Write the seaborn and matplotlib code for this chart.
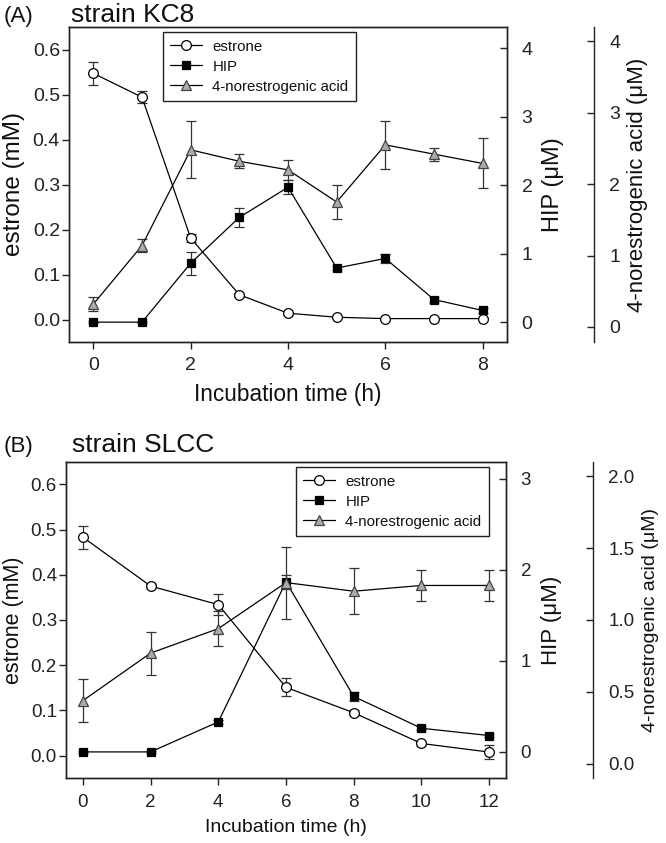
import numpy as np
import pandas as pd
import seaborn as sns
import matplotlib
matplotlib.use("Agg")
import matplotlib.pyplot as plt
from matplotlib.ticker import FormatStrFormatter

# ---------------- data ----------------
A_time = [0, 1, 2, 3, 4, 5, 6, 7, 8]
A_estrone = [0.547, 0.494, 0.181, 0.055, 0.014, 0.005, 0.002, 0.002, 0.002]
A_estrone_err = [0.025, 0.013, 0.008, 0.004, 0.003, 0.002, 0.001, 0.001, 0.001]
A_hip = [0.0, 0.0, 0.86, 1.53, 1.97, 0.79, 0.93, 0.33, 0.17]
A_hip_err = [0.01, 0.01, 0.17, 0.14, 0.10, 0.03, 0.07, 0.03, 0.03]
A_nor = [0.32, 1.14, 2.48, 2.32, 2.20, 1.75, 2.55, 2.42, 2.29]
A_nor_err = [0.10, 0.09, 0.40, 0.10, 0.14, 0.24, 0.34, 0.09, 0.35]

B_time = [0, 2, 4, 6, 8, 10, 12]
B_estrone = [0.483, 0.375, 0.334, 0.151, 0.095, 0.027, 0.008]
B_estrone_err = [0.025, 0.005, 0.024, 0.020, 0.005, 0.005, 0.015]
B_hip = [0.0, 0.0, 0.33, 1.87, 0.61, 0.26, 0.18]
B_hip_err = [0.01, 0.01, 0.02, 0.08, 0.05, 0.02, 0.02]
B_nor = [0.44, 0.77, 0.94, 1.26, 1.20, 1.24, 1.24]
B_nor_err = [0.15, 0.15, 0.12, 0.25, 0.16, 0.11, 0.11]

series_names = ["estrone", "HIP", "4-norestrogenic acid"]

# ---------------- style ----------------
sns.set_theme(style="ticks")
plt.rcParams["font.family"] = ["Liberation Sans", "DejaVu Sans"]
plt.rcParams.update({
    "axes.linewidth": 1.0,
    "axes.edgecolor": "#222222",
    "xtick.major.width": 1.0,
    "ytick.major.width": 1.0,
    "xtick.major.size": 5,
    "ytick.major.size": 5,
    "xtick.color": "#222222",
    "ytick.color": "#222222",
    "text.color": "#111111",
    "axes.labelcolor": "#111111",
})

fig = plt.figure(figsize=(6.66, 8.43), dpi=100)

W, H = 666.0, 843.0


def rect(l, t, r, b):
    return [l / W, 1 - b / H, (r - l) / W, (b - t) / H]


def panel(r, third_pos, t, est, este, hip, hipe, nor, nore,
          xlim, xticks, hip_lim, hip_ticks, nor_lim, nor_ticks, nor_fmt,
          leg_anchor, fs, ylab_x):
    ax = fig.add_axes(r)
    ax2 = ax.twinx()
    ax3 = ax.twinx()
    ax3.spines["right"].set_position(("axes", third_pos))
    for s in ["top", "bottom", "left"]:
        ax3.spines[s].set_visible(False)
    ax3.patch.set_visible(False)
    for a in (ax, ax2):
        for s in a.spines.values():
            s.set_visible(True)

    lw = 0.9
    ekw = dict(fmt="none", ecolor="#333333", elinewidth=0.9, capsize=3.6, capthick=0.9, zorder=1.5)

    ax.errorbar(t, est, yerr=este, **ekw)
    sns.lineplot(x=t, y=est, ax=ax, color="black", linewidth=lw, marker="o",
                 markersize=7.0, markerfacecolor="white", markeredgecolor="black",
                 markeredgewidth=0.9, legend=False, errorbar=None, zorder=3)
    h1 = ax.lines[-1]

    ax2.errorbar(t, hip, yerr=hipe, **ekw)
    sns.lineplot(x=t, y=hip, ax=ax2, color="black", linewidth=lw, marker="s",
                 markersize=6.0, markerfacecolor="black", markeredgecolor="black",
                 markeredgewidth=0.9, legend=False, errorbar=None, zorder=3)
    h2 = ax2.lines[-1]

    ax3.errorbar(t, nor, yerr=nore, **ekw)
    sns.lineplot(x=t, y=nor, ax=ax3, color="black", linewidth=lw, marker="^",
                 markersize=7.2, markerfacecolor="#ababab", markeredgecolor="#444444",
                 markeredgewidth=0.9, legend=False, errorbar=None, zorder=3)
    h3 = ax3.lines[-1]

    ax.set_xlim(*xlim)
    ax.set_xticks(xticks)
    ax.set_ylim(-0.05, 0.65)
    ax.set_yticks(np.arange(0, 0.61, 0.1))
    ax.yaxis.set_major_formatter(FormatStrFormatter("%.1f"))
    ax.tick_params(axis="both", direction="out", labelsize=fs["tick"])
    ax.tick_params(axis="y", pad=1.5)
    ax.tick_params(axis="x", pad=6)

    ax2.set_ylim(*hip_lim)
    ax2.set_yticks(hip_ticks)
    ax2.tick_params(axis="y", direction="in", labelsize=fs["tick"], pad=10.5)

    ax3.set_ylim(*nor_lim)
    ax3.set_yticks(nor_ticks)
    ax3.yaxis.set_major_formatter(FormatStrFormatter(nor_fmt))
    ax3.tick_params(axis="y", direction="in", labelsize=fs["tick"], pad=11)

    ax.set_xlabel("Incubation time (h)", fontsize=fs["xlabel"], labelpad=6)
    ax.set_ylabel("estrone (mM)", fontsize=fs["ylabel"])
    ax.yaxis.set_label_coords(ylab_x, 0.5)
    ax2.set_ylabel("HIP (μM)", fontsize=fs["hip"], labelpad=7)
    ax3.set_ylabel("4-norestrogenic acid (μM)", fontsize=fs["nor"], labelpad=5)

    leg = ax3.legend([h1, h2, h3], series_names, loc="upper left",
                     bbox_to_anchor=leg_anchor, bbox_transform=ax.transAxes,
                     frameon=True, fancybox=False, edgecolor="#222222", framealpha=1,
                     fontsize=fs["legend"], handlelength=2.1, handletextpad=0.7,
                     labelspacing=0.4, borderpad=0.5, borderaxespad=0)
    leg.get_frame().set_linewidth(1.0)
    return ax


# Panel A
fsA = dict(tick=14, xlabel=16.3, ylabel=17.5, hip=17, nor=16, legend=10.8)
panel(rect(69, 27, 507, 342), 1.1986, A_time, A_estrone, A_estrone_err,
      A_hip, A_hip_err, A_nor, A_nor_err,
      xlim=(-0.5, 8.5), xticks=[0, 2, 4, 6, 8],
      hip_lim=(-0.29, 4.31), hip_ticks=[0, 1, 2, 3, 4],
      nor_lim=(-0.21, 4.2), nor_ticks=[0, 1, 2, 3, 4], nor_fmt="%d",
      leg_anchor=(0.2146, 0.984), fs=fsA, ylab_x=(25 - 69) / 438)

# Panel B
fsB = dict(tick=13.5, xlabel=14, ylabel=15.5, hip=16, nor=14, legend=10.8)
panel(rect(66, 461.7, 506, 778.3), 1.198, B_time, B_estrone, B_estrone_err,
      B_hip, B_hip_err, B_nor, B_nor_err,
      xlim=(-0.5, 12.5), xticks=[0, 2, 4, 6, 8, 10, 12],
      hip_lim=(-0.29, 3.19), hip_ticks=[0, 1, 2, 3],
      nor_lim=(-0.1, 2.1), nor_ticks=[0.0, 0.5, 1.0, 1.5, 2.0], nor_fmt="%.1f",
      leg_anchor=(0.5227, 0.983), fs=fsB, ylab_x=(24 - 66) / 440)

# panel titles
fig.text(4 / W, 1 - 21.7 / H, "(A)", fontsize=16, va="baseline", ha="left")
fig.text(71 / W, 1 - 21.7 / H, "strain KC8", fontsize=19, va="baseline", ha="left")
fig.text(4 / W, 1 - 452 / H, "(B)", fontsize=16, va="baseline", ha="left")
fig.text(72 / W, 1 - 452 / H, "strain SLCC", fontsize=19, va="baseline", ha="left")

fig.savefig("out.png", dpi=100, facecolor="white")
